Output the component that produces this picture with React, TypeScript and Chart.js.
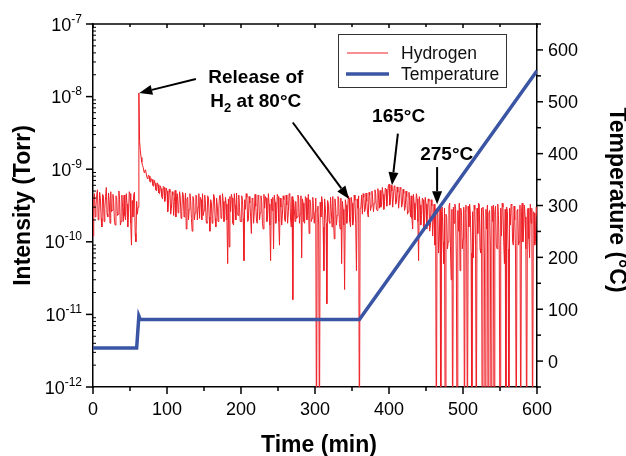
import { useEffect, useRef } from "react";
import { Chart, registerables } from "chart.js";

Chart.register(...registerables);

// ---------- data ----------
// Hydrogen partial pressure in units of 1e-10 Torr.
// Readings at even minutes (t = 0, 2, ... 600) and at odd minutes (t = 1, 3, ... 599).
const timeStartMin = 0;
const timeStepMin = 2;
const hydrogenEvenE10 = [
  1.2, 4.6, 3.1, 5.2, 2.5, 3.9, 1.6, 4.3, 2.9, 5.6,
  2.2, 3.6, 4.9, 2.7, 3.5, 1.7, 4.1, 2.4, 3.8, 1.9,
  3.0, 4.4, 2.0, 3.3, 2.5, 4.6, 0.9, 2.2, 4.8, 1.0,
  2.4, 112, 18, 12.5, 10.5, 9.6, 8.6, 7.4, 8.0, 6.6,
  7.2, 5.8, 6.4, 5.0, 6.1, 4.6, 5.4, 3.9, 5.6, 4.2,
  5.0, 3.4, 4.8, 2.9, 4.4, 3.6, 2.2, 4.6, 3.1, 4.0,
  2.6, 4.5, 3.3, 1.5, 4.1, 2.8, 3.7, 1.4, 3.9, 2.5,
  4.3, 3.0, 2.1, 3.8, 4.6, 2.7, 3.4, 1.8, 4.0, 1.4,
  3.5, 2.4, 4.2, 1.6, 3.1, 2.9, 4.4, 2.2, 3.6, 2.0,
  3.3, 0.5, 0.85, 2.6, 4.0, 1.7, 3.2, 4.7, 2.3, 3.0,
  1.9, 3.7, 0.55, 2.8, 4.1, 2.0, 3.4, 1.3, 3.9, 2.6,
  3.1, 1.8, 4.3, 2.5, 3.6, 1.5, 2.9, 4.0, 2.2, 3.3,
  0.55, 2.7, 0.8, 3.5, 2.1, 4.2, 0.9, 3.0, 2.4, 3.8,
  1.9, 3.2, 2.6, 4.5, 1.6, 0.16, 2.9, 3.6, 2.2, 3.9,
  2.4, 0.6, 3.4, 1.8, 4.0, 2.7, 1.3, 3.5, 2.1, 3.0,
  2.6, 0.001, 3.1, 0.001, 2.2, 3.6, 0.4, 2.9, 0.14, 3.4,
  1.8, 2.7, 4.2, 1.1, 3.0, 2.3, 3.9, 1.5, 0.5, 2.8,
  0.22, 3.2, 2.5, 4.0, 1.6, 3.4, 2.0, 3.7, 0.4, 2.9,
  0.001, 3.0, 2.4, 4.1, 2.8, 3.6, 2.2, 4.4, 3.1, 3.8,
  3.4, 4.6, 2.7, 4.0, 5.1, 3.2, 4.5, 3.6, 5.3, 4.1,
  6.2, 3.8, 5.0, 4.3, 5.8, 3.5, 4.8, 4.0, 5.4, 3.3,
  4.6, 3.0, 4.2, 2.6, 3.7, 4.3, 1.5, 3.4, 2.8, 3.9,
  0.55, 3.2, 2.3, 3.8, 1.9, 3.3, 2.5, 3.6, 1.7, 3.1,
  2.0, 0.9, 0.001, 2.6, 1.2, 0.001, 3.0, 0.5, 0.001, 2.2,
  1.0, 3.4, 0.3, 0.001, 1.8, 2.9, 0.001, 1.4, 0.4, 2.5,
  1.1, 0.001, 3.2, 0.001, 1.6, 2.4, 0.001, 0.6, 2.8, 0.001,
  1.3, 3.3, 0.7, 0.001, 2.1, 0.001, 1.5, 0.001, 2.7, 0.001,
  1.9, 0.001, 3.1, 0.8, 2.3, 0.001, 1.2, 3.0, 0.5, 0.001,
  2.6, 0.001, 1.7, 3.2, 0.9, 2.0, 0.001, 2.8, 1.0, 0.001,
  3.4, 1.5, 2.2, 0.001, 2.9, 0.6, 1.8, 0.001, 2.5, 1.1,
  2.3,
];
const hydrogenOddE10 = [
  3.8, 2.2, 4.4, 2.0, 4.8, 2.1, 4.5, 1.9, 4.2, 2.4,
  4.7, 1.8, 2.6, 4.5, 1.9, 4.3, 2.3, 5.0, 1.7, 4.4,
  1.9, 2.3, 4.6, 1.6, 4.9, 1.8, 3.7, 4.5, 1.3, 3.6,
  3.0, 24, 14.5, 11.2, 9.0, 9.8, 7.6, 8.3, 6.8, 7.4,
  6.0, 7.0, 5.2, 6.5, 4.7, 5.9, 4.2, 5.8, 3.6, 5.5,
  2.6, 5.3, 2.4, 4.9, 2.3, 5.1, 4.2, 2.5, 4.9, 2.1,
  4.8, 2.2, 4.7, 3.9, 2.0, 4.6, 2.1, 4.2, 2.0, 4.4,
  2.0, 4.6, 4.1, 2.0, 2.3, 4.4, 1.9, 4.3, 2.2, 3.8,
  1.8, 4.5, 2.1, 4.0, 1.9, 4.3, 2.1, 4.6, 1.9, 4.1,
  2.0, 3.9, 4.2, 4.5, 1.8, 4.6, 2.0, 2.4, 4.4, 1.9,
  4.3, 2.1, 3.8, 4.6, 1.9, 4.2, 2.2, 4.0, 1.8, 4.5,
  1.9, 4.4, 2.0, 4.3, 1.8, 4.5, 4.2, 1.9, 4.6, 1.7,
  3.9, 4.1, 4.4, 1.8, 4.5, 1.9, 4.0, 1.7, 4.3, 2.0,
  4.4, 1.8, 4.6, 2.0, 4.2, 3.8, 1.9, 2.1, 4.4, 1.8,
  4.3, 3.9, 1.9, 4.2, 2.0, 4.5, 3.8, 1.9, 4.1, 1.8,
  4.0, 2.8, 1.7, 3.5, 4.2, 1.6, 3.9, 1.8, 3.7, 1.9,
  4.1, 1.6, 2.0, 3.9, 1.7, 4.2, 1.8, 4.0, 3.6, 1.7,
  3.8, 1.8, 4.3, 1.9, 4.1, 1.7, 4.4, 1.8, 3.9, 4.3,
  2.9, 4.4, 4.6, 2.6, 4.7, 2.5, 4.8, 2.7, 5.0, 2.6,
  5.2, 2.8, 5.4, 2.9, 3.0, 5.6, 2.8, 5.5, 3.1, 5.9,
  3.2, 6.0, 3.0, 5.9, 3.3, 5.7, 2.9, 5.6, 3.0, 5.3,
  2.7, 5.0, 2.4, 4.8, 2.2, 2.1, 4.5, 2.0, 4.6, 1.9,
  4.2, 1.7, 4.0, 1.6, 4.1, 1.5, 3.9, 1.4, 3.8, 1.2,
  3.3, 2.8, 2.9, 0.7, 3.2, 2.6, 1.0, 2.9, 2.4, 0.8,
  3.1, 0.9, 2.8, 3.0, 3.3, 0.6, 2.7, 3.4, 2.9, 0.8,
  3.0, 2.7, 0.9, 3.1, 3.3, 0.7, 2.6, 3.2, 0.9, 2.9,
  3.4, 0.8, 2.9, 3.0, 0.6, 2.8, 3.2, 2.5, 0.9, 3.1,
  3.2, 2.6, 0.9, 3.3, 0.7, 2.9, 3.4, 1.0, 2.8, 3.0,
  0.8, 2.9, 3.3, 1.0, 3.1, 0.7, 2.7, 0.9, 3.2, 2.6,
  1.0, 3.2, 0.8, 2.8, 1.1, 3.3, 2.9, 2.6, 0.9, 3.0,
];

// Temperature programme (°C)
const temperatureTimes = [0, 59, 62, 64, 360, 600];
const temperatureValues = [25, 25, 87, 80, 80, 560];

// axes
const timeTicks = [0, 100, 200, 300, 400, 500, 600];
const timeMinorTicks = [50, 150, 250, 350, 450, 550];
const intensityDecades = [-12, -11, -10, -9, -8, -7];
const temperatureTicks = [0, 100, 200, 300, 400, 500, 600];
const temperatureMinorTicks = [-50, 50, 150, 250, 350, 450, 550, 650];

const seriesNames = ["Hydrogen", "Temperature"];

// annotations (anchors in data coordinates: [time, intensity])
const annotationTexts = ["Release of", "at 80°C", "165°C", "275°C"];
const arrows = [
  { from: [139, 1.75e-8], to: [62.5, 1.12e-8] },
  { from: [270, 4.4e-9], to: [346, 3.9e-10] },
  { from: [412, 3.1e-9], to: [404, 6.0e-10] },
  { from: [465, 1.07e-9], to: [465, 3.3e-10] },
];

const RED = "#ee1f26";
const BLUE = "#3b55a5";
const FONT = '"Liberation Sans", Arial, Helvetica, sans-serif';

const decorations = {
  id: "decorations",
  afterDraw(chart: any) {
    const { ctx, chartArea: a, scales } = chart;
    const xs = scales.x;
    const ys = scales.y;
    const ts = scales.y2;
    ctx.save();
    ctx.strokeStyle = "#000";
    ctx.fillStyle = "#000";
    ctx.lineWidth = 1.5;
    const seg = (x1: number, y1: number, x2: number, y2: number) => {
      ctx.beginPath();
      ctx.moveTo(x1, y1);
      ctx.lineTo(x2, y2);
      ctx.stroke();
    };

    // top frame line
    seg(a.left, a.top, a.right, a.top);

    // x axis ticks + labels
    ctx.font = `18px ${FONT}`;
    ctx.textAlign = "center";
    ctx.textBaseline = "alphabetic";
    for (const v of timeTicks) {
      const px = xs.getPixelForValue(v);
      seg(px, a.bottom, px, a.bottom + 7);
      seg(px, a.top, px, a.top + 4);
      ctx.fillText(String(v), px, a.bottom + 28);
    }
    for (const v of timeMinorTicks) {
      const px = xs.getPixelForValue(v);
      seg(px, a.bottom, px, a.bottom + 4);
      seg(px, a.top, px, a.top + 3);
    }

    // left log axis
    for (const d of intensityDecades) {
      const py = ys.getPixelForValue(Math.pow(10, d));
      seg(a.left - 7, py, a.left, py);
      const expText = String(d);
      ctx.textAlign = "left";
      ctx.font = `12px ${FONT}`;
      const ew = ctx.measureText(expText).width;
      ctx.font = `18px ${FONT}`;
      const bw = ctx.measureText("10").width;
      const right = a.left - 11;
      ctx.fillText("10", right - ew - bw, py + 6.5);
      ctx.font = `12px ${FONT}`;
      ctx.fillText(expText, right - ew, py - 1.5);
      if (d < -7) {
        ctx.lineWidth = 1;
        for (let m = 2; m <= 9; m++) {
          const pm = ys.getPixelForValue(m * Math.pow(10, d));
          seg(a.left, pm, a.left + 3, pm);
        }
        ctx.lineWidth = 1.5;
      }
    }

    // right temperature axis
    ctx.font = `18px ${FONT}`;
    ctx.textAlign = "left";
    for (const v of temperatureTicks) {
      const py = ts.getPixelForValue(v);
      seg(a.right, py, a.right + 6, py);
      ctx.fillText(String(v), a.right + 11, py + 6.5);
    }
    for (const v of temperatureMinorTicks) {
      const py = ts.getPixelForValue(v);
      seg(a.right, py, a.right + 4, py);
    }

    // axis titles
    ctx.font = `bold 23px ${FONT}`;
    ctx.textAlign = "center";
    ctx.fillText("Time (min)", 319, 452);
    ctx.save();
    ctx.translate(29.5, (a.top + a.bottom) / 2);
    ctx.rotate(-Math.PI / 2);
    ctx.fillText("Intensity (Torr)", 0, 0);
    ctx.restore();
    ctx.save();
    ctx.translate(610, 200);
    ctx.rotate(Math.PI / 2);
    ctx.fillText("Temperature (°C)", 0, 0);
    ctx.restore();

    // legend
    const lx = a.right - 199;
    const ly = a.top + 10;
    ctx.fillStyle = "#fff";
    ctx.fillRect(lx + 0.5, ly + 0.5, 168, 53);
    ctx.strokeStyle = "#333";
    ctx.lineWidth = 1;
    ctx.strokeRect(lx + 0.5, ly + 0.5, 168, 53);
    ctx.strokeStyle = RED;
    ctx.lineWidth = 1;
    seg(lx + 9, ly + 19, lx + 50, ly + 19);
    ctx.strokeStyle = BLUE;
    ctx.lineWidth = 3.5;
    seg(lx + 8, ly + 40, lx + 51, ly + 40);
    ctx.fillStyle = "#111";
    ctx.font = `17.5px ${FONT}`;
    ctx.textAlign = "left";
    ctx.fillText(seriesNames[0], lx + 63, ly + 24.5);
    ctx.fillText(seriesNames[1], lx + 63, ly + 46);

    // annotations
    ctx.fillStyle = "#000";
    ctx.strokeStyle = "#000";
    ctx.font = `bold 19px ${FONT}`;
    ctx.textAlign = "center";
    const px = (t: number) => xs.getPixelForValue(t);
    const py = (v: number) => ys.getPixelForValue(v);
    ctx.fillText(annotationTexts[0], px(220), py(1.56e-8));
    // "H2 at 80°C" with subscript
    {
      const cx = px(220);
      const by = py(7.26e-9);
      ctx.font = `bold 19px ${FONT}`;
      const wH = ctx.measureText("H").width;
      const wRest = ctx.measureText(" " + annotationTexts[1]).width;
      ctx.font = `bold 13px ${FONT}`;
      const w2 = ctx.measureText("2").width;
      const total = wH + w2 + wRest;
      const x0 = cx - total / 2;
      ctx.textAlign = "left";
      ctx.font = `bold 19px ${FONT}`;
      ctx.fillText("H", x0, by);
      ctx.font = `bold 13px ${FONT}`;
      ctx.fillText("2", x0 + wH, by + 5);
      ctx.font = `bold 19px ${FONT}`;
      ctx.fillText(" " + annotationTexts[1], x0 + wH + w2, by);
    }
    ctx.textAlign = "center";
    ctx.fillText(annotationTexts[2], px(413), py(4.47e-9));
    ctx.fillText(annotationTexts[3], px(478), py(1.34e-9));

    ctx.lineWidth = 2;
    for (const ar of arrows) {
      const x1 = px(ar.from[0]);
      const y1 = py(ar.from[1]);
      const x2 = px(ar.to[0]);
      const y2 = py(ar.to[1]);
      const ang = Math.atan2(y2 - y1, x2 - x1);
      const hl = 13;
      const hw = 5;
      const bx = x2 - hl * Math.cos(ang);
      const by = y2 - hl * Math.sin(ang);
      seg(x1, y1, bx, by);
      ctx.beginPath();
      ctx.moveTo(x2, y2);
      ctx.lineTo(bx + hw * Math.sin(ang), by - hw * Math.cos(ang));
      ctx.lineTo(bx - hw * Math.sin(ang), by + hw * Math.cos(ang));
      ctx.closePath();
      ctx.fill();
    }
    ctx.restore();
  },
};

export default function App() {
  const canvasRef = useRef<HTMLCanvasElement | null>(null);

  useEffect(() => {
    if (!canvasRef.current) return;
    const hydrogenPoints: { x: number; y: number }[] = [];
    hydrogenEvenE10.forEach((v, i) => {
      const t = timeStartMin + i * timeStepMin;
      hydrogenPoints.push({ x: t, y: v * 1e-10 });
      if (i < hydrogenOddE10.length) {
        hydrogenPoints.push({ x: t + 1, y: hydrogenOddE10[i] * 1e-10 });
      }
    });
    const temperaturePoints = temperatureTimes.map((t, i) => ({
      x: t,
      y: temperatureValues[i],
    }));
    const chart = new Chart(canvasRef.current, {
      type: "line",
      data: {
        datasets: [
          {
            label: seriesNames[0],
            data: hydrogenPoints,
            yAxisID: "y",
            borderColor: RED,
            borderWidth: 1,
            pointRadius: 0,
            tension: 0,
            order: 1,
          },
          {
            label: seriesNames[1],
            data: temperaturePoints,
            yAxisID: "y2",
            borderColor: BLUE,
            borderWidth: 3.5,
            pointRadius: 0,
            tension: 0,
            order: 0,
          },
        ],
      },
      options: {
        animation: false,
        responsive: false,
        devicePixelRatio: 1,
        layout: { padding: { top: 24, left: 0, right: 0, bottom: 0 } },
        plugins: {
          legend: { display: false },
          tooltip: { enabled: false },
        },
        scales: {
          x: {
            type: "linear",
            min: 0,
            max: 600,
            ticks: { display: false },
            grid: { display: false },
            border: { display: true, color: "#000", width: 1.5 },
            afterFit: (s: any) => {
              s.height = 69;
            },
          },
          y: {
            type: "logarithmic",
            position: "left",
            min: 1e-12,
            max: 1e-7,
            ticks: { display: false },
            grid: { display: false },
            border: { display: true, color: "#000", width: 1.5 },
            afterFit: (s: any) => {
              s.width = 93;
            },
          },
          y2: {
            type: "linear",
            position: "right",
            min: -50,
            max: 650,
            ticks: { display: false },
            grid: { display: false },
            border: { display: true, color: "#000", width: 1.5 },
            afterFit: (s: any) => {
              s.width = 89;
            },
          },
        },
      },
      plugins: [decorations],
    });
    return () => chart.destroy();
  }, []);

  return (
    <div style={{ position: "fixed", left: 0, top: 0, width: 626, height: 456, background: "#fff" }}>
      <canvas ref={canvasRef} width={626} height={456} style={{ display: "block" }} />
    </div>
  );
}
